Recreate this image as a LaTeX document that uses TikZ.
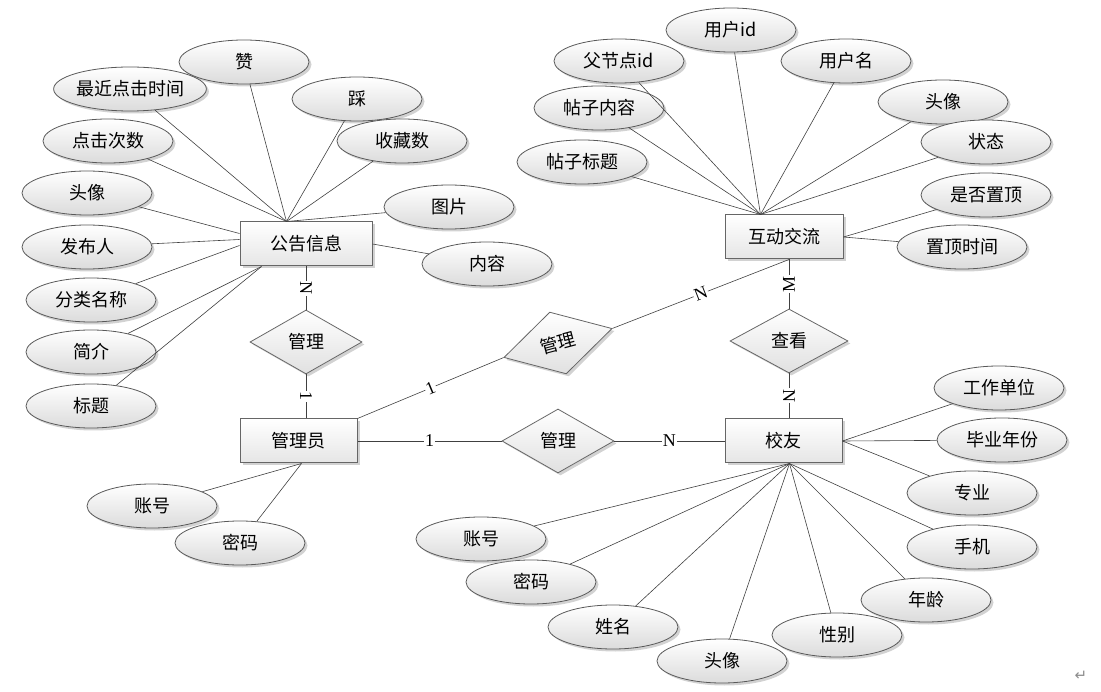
\documentclass[tikz,border=0pt]{standalone}
\usepackage{fontspec}
\newfontfamily\cjk{Noto Sans CJK SC}
\newfontfamily\lbl{Liberation Serif}
\newfontfamily\sym{DejaVu Sans}
\usetikzlibrary{shapes.geometric,shadows}
\tikzset{
  shad/.style={drop shadow={shadow xshift=2.5pt, shadow yshift=-2.5pt, fill=black!35, opacity=0.5}},
  attr/.style={ellipse, draw=black!65, line width=0.8pt, top color=white, bottom color=black!14,
    minimum width=130pt, minimum height=44pt, inner sep=0pt, shad,
    font=\cjk\fontsize{18}{20}\selectfont},
  ent/.style={rectangle, draw=black!60, line width=1pt, top color=white, bottom color=black!10,
    minimum height=44pt, inner sep=0pt, shad, font=\cjk\fontsize{18}{20}\selectfont},
  rel/.style={diamond, draw=black!60, line width=0.8pt, top color=white, bottom color=black!12,
    minimum width=112pt, minimum height=64pt, inner sep=0pt, shad,
    font=\cjk\fontsize{18}{20}\selectfont},
  conn/.style={draw=black!75, line width=0.6pt},
  card/.style={font=\lbl\fontsize{18}{20}\selectfont, fill=white, inner sep=1pt, midway}
}
\begin{document}
\begin{tikzpicture}[x=1pt,y=-1pt]
\useasboundingbox (0,0) rectangle (1101,692);
% entities
\node[ent, minimum width=132pt] (gg) at (306,244) {公告信息};
\node[ent, minimum width=117pt] (gly) at (298.5,441) {管理员};
\node[ent, minimum width=118pt] (hd) at (784,237) {互动交流};
\node[ent, minimum width=117pt] (xy) at (783.5,441) {校友};
% relations
\node[rel] (dm1) at (306,342) {管理};
\node[rel, rotate=15] (dm2) at (558,343) {管理};
\node[rel] (dm3) at (558,441) {管理};
\node[rel, minimum width=118pt] (dm4) at (789,341) {查看};
% attributes of 公告信息
\node[attr] (a1) at (244,62) {赞};
\node[attr] (a2) at (130,89) {最近点击时间};
\node[attr] (a3) at (357,99) {踩};
\node[attr] (a4) at (108,141) {点击次数};
\node[attr] (a5) at (402,141) {收藏数};
\node[attr] (a6) at (87,193) {头像};
\node[attr] (a7) at (449,207) {图片};
\node[attr] (a8) at (87,247) {发布人};
\node[attr] (a9) at (487,264) {内容};
\node[attr] (a10) at (91,300) {分类名称};
\node[attr] (a11) at (91,352) {简介};
\node[attr] (a12) at (91,406) {标题};
% attributes of 互动交流
\node[attr] (b1) at (731,30) {用户id};
\node[attr] (b2) at (619,61) {父节点id};
\node[attr] (b3) at (846,61) {用户名};
\node[attr] (b4) at (599,108) {帖子内容};
\node[attr] (b5) at (943,102) {头像};
\node[attr] (b6) at (986,142) {状态};
\node[attr] (b7) at (582,162) {帖子标题};
\node[attr] (b8) at (986,195) {是否置顶};
\node[attr] (b9) at (962,247) {置顶时间};
% attributes of 校友
\node[attr] (c1) at (999,388) {工作单位};
\node[attr] (c2) at (1002,440) {毕业年份};
\node[attr] (c3) at (972,493) {专业};
\node[attr] (c4) at (972,547) {手机};
\node[attr] (c5) at (926,600) {年龄};
\node[attr] (c6) at (837,635) {性别};
\node[attr] (c7) at (722,661) {头像};
\node[attr] (c8) at (613,627) {姓名};
\node[attr] (c9) at (531,582) {密码};
\node[attr] (c10) at (481,539) {账号};
% attributes of 管理员
\node[attr] (d1) at (152,506) {账号};
\node[attr] (d2) at (240,543) {密码};
% anchor points
\coordinate (ggT) at ([xshift=47pt]gg.north west);
\coordinate (ggL1) at ([yshift=-12pt]gg.north west);
\coordinate (ggL2) at ([yshift=-18pt]gg.north west);
\coordinate (ggL3) at ([yshift=-24pt]gg.north west);
\coordinate (ggB) at ([xshift=22pt]gg.south west);
\coordinate (hdT) at ([xshift=36pt]hd.north west);
\coordinate (xyB) at ([xshift=65pt]xy.south west);
\coordinate (glB) at ([xshift=62pt]gly.south west);
\coordinate (hdB) at (dm4.north |- hd.south);
% attribute connectors
\foreach \n in {a1,a2,a3,a4,a5,a7} \draw[conn] (\n) -- (ggT);
\draw[conn] (a6) -- (ggL1);
\draw[conn] (a8) -- (ggL2);
\draw[conn] (a10) -- (ggL3);
\draw[conn] (a11) -- (ggB);
\draw[conn] (a12) -- (ggB);
\draw[conn] (a9) -- (gg.east);
\foreach \n in {b1,b2,b3,b4,b5,b6,b7} \draw[conn] (\n) -- (hdT);
\draw[conn] (b8) -- (hd.east);
\draw[conn] (b9) -- (hd.east);
\foreach \n in {c1,c2,c3} \draw[conn] (\n) -- (xy.east);
\foreach \n in {c4,c5,c6,c7,c8,c9,c10} \draw[conn] (\n) -- (xyB);
\draw[conn] (d1) -- (glB);
\draw[conn] (d2) -- (glB);
% relation connectors
\draw[conn] (gg) -- node[card, sloped] {N} (dm1);
\draw[conn] (dm1.south) -- node[card, sloped] {1} (dm1.south |- gly.north);
\draw[conn] (gly) -- node[card] {1} (dm3);
\draw[conn] (dm3) -- node[card] {N} (xy);
\draw[conn] (gly.north east) -- node[card, sloped] {1} (dm2.west);
\draw[conn] (dm2.east) -- node[card, sloped] {N} (hdB);
\draw[conn] (dm4.north) -- node[card, sloped] {M} (hdB);
\draw[conn] (dm4.south) -- node[card, sloped] {N} (dm4.south |- xy.north);
% paragraph mark
\node[font=\sym\fontsize{15}{16}\selectfont, text=black!45] (pm) at (1081,676) {↵};
\end{tikzpicture}
\end{document}
